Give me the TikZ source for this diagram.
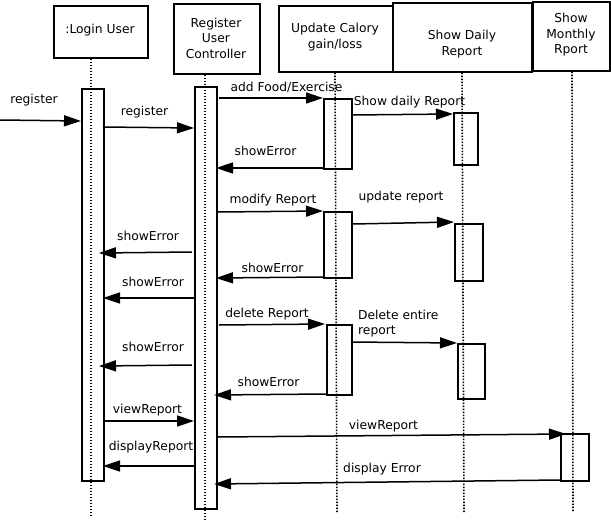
\documentclass[tikz,border=0pt]{standalone}
\usepackage{fontspec}
\setmainfont{DejaVu Sans}
\usetikzlibrary{arrows.meta}
\begin{document}
\begin{tikzpicture}[x=1pt,y=-1pt,
  font=\fontsize{12.3}{15.5}\selectfont,
  hdr/.style={draw,line width=1.6pt,anchor=north west,inner sep=0pt},
  htxt/.style={inner sep=0pt,align=center},
  act/.style={draw,line width=1.6pt,anchor=north west,inner sep=0pt},
  life/.style={line width=1.6pt,dash pattern=on 1.6pt off 1.4pt},
  msg/.style={line width=1.5pt,-{Triangle[length=17pt,width=11pt]}},
  lbl/.style={inner sep=0pt}]
\useasboundingbox (0,0) rectangle (611,522);
% header boxes
\node[hdr,minimum width=94pt,minimum height=52pt] (h1) at (53,5) {};
\node[hdr,minimum width=86pt,minimum height=70pt] (h2) at (173,3) {};
\node[hdr,minimum width=114pt,minimum height=66pt] (h3) at (278,5) {};
\node[hdr,minimum width=139pt,minimum height=69pt] (h4) at (392,2) {};
\node[hdr,minimum width=77pt,minimum height=69pt] (h5) at (532,1) {};
\node[htxt] (h1t) at (100,30) {:Login User};
\node[htxt] (h2t) at (216,38) {Register\\User\\Controller};
\node[htxt] (h3t) at (335,37) {Update Calory\\gain/loss};
\node[htxt] (h4t) at (462,44) {Show Daily\\Report};
\node[htxt] (h5t) at (571,35) {Show\\Monthly\\Rport};
% lifelines
\coordinate (e1) at (91,517);
\coordinate (e2) at (205,520);
\coordinate (e3) at (337,512);
\coordinate (e4) at (464,512);
\coordinate (e5) at (573,512);
\draw[life] (h1.south -| 91,0) -- (e1);
\draw[life] (h2.south -| 205,0) -- (e2);
\draw[life] (h3.south -| 335,0) -- (e3);
\draw[life] (h4.south -| 462,0) -- (e4);
\draw[life] (h5.south -| 572,0) -- (e5);
% activation boxes
\node[act,minimum width=22pt,minimum height=392pt] (la) at (81,88) {};
\node[act,minimum width=22pt,minimum height=422pt] (ca) at (194,86) {};
\node[act,minimum width=28pt,minimum height=70pt] (u1) at (323,98) {};
\node[act,minimum width=24pt,minimum height=52pt] (d1) at (453,112) {};
\node[act,minimum width=28pt,minimum height=66pt] (u2) at (323,211) {};
\node[act,minimum width=28pt,minimum height=57pt] (d2) at (454,223) {};
\node[act,minimum width=25pt,minimum height=70pt] (u3) at (326,324) {};
\node[act,minimum width=27pt,minimum height=55pt] (d3) at (457,343) {};
\node[act,minimum width=28pt,minimum height=47pt] (m1) at (560,433) {};
% messages
\coordinate (src) at (0,120);
\draw[msg] (src) -- (81,121);
\draw[msg] (103,127) -- (194,128);
\draw[msg] (219,98) -- (323,98);
\draw[msg] (351,115) -- (453,114);
\draw[msg] (323,168) -- (216,168);
\draw[msg] (218,212) -- (323,211);
\draw[msg] (353,224) -- (454,222);
\draw[msg] (192,252) -- (99,253);
\draw[msg] (323,277) -- (216,278);
\draw[msg] (194,298) -- (103,298);
\draw[msg] (219,325) -- (325,324);
\draw[msg] (351,342) -- (457,343);
\draw[msg] (192,365) -- (99,366);
\draw[msg] (326,394) -- (214,395);
\draw[msg] (103,421) -- (194,421);
\draw[msg] (194,466) -- (103,466);
\draw[msg] (218,437) -- (566,434);
\draw[msg] (560,480) -- (214,484);
% labels
\node[lbl] (t1) at (34,100) {register};
\node[lbl] (t2) at (144.5,112) {register};
\node[lbl] (t3) at (286.5,87) {add Food/Exercise};
\node[lbl] (t4) at (409.5,102) {Show daily Report};
\node[lbl] (t5) at (265.5,151) {showError};
\node[lbl] (t6) at (273,200) {modify Report};
\node[lbl] (t7) at (401,197) {update report};
\node[lbl] (t8) at (148,236) {showError};
\node[lbl] (t9) at (272.5,268) {showError};
\node[lbl] (t10) at (153,282) {showError};
\node[lbl] (t11) at (267,314) {delete Report};
\node[lbl,align=left,anchor=west] (t12) at (358,323.5) {Delete entire\\report};
\node[lbl] (t13) at (153,347) {showError};
\node[lbl] (t14) at (268.5,382) {showError};
\node[lbl] (t15) at (147.5,410) {viewReport};
\node[lbl] (t16) at (151,447) {displayReport};
\node[lbl] (t17) at (383.5,426) {viewReport};
\node[lbl] (t18) at (382,469) {display Error};
\end{tikzpicture}
\end{document}
